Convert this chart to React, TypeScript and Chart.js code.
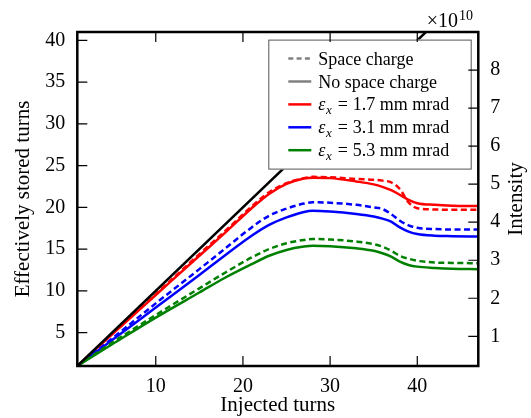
import { useEffect, useRef } from "react";
import { Chart, registerables } from "chart.js";

Chart.register(...registerables);

// ---- data ----
const injectedTurns = [1, 5, 10, 15, 18, 21, 23, 25, 27, 28, 30, 33, 35, 36, 37, 38, 39, 40, 42, 44, 47];

const red17NoSC = [1, 4.8, 9.5, 14.2, 17.0, 19.9, 21.6, 22.8, 23.45, 23.55, 23.5, 23.1, 22.75, 22.45, 22.05, 21.5, 20.9, 20.5, 20.3, 20.2, 20.15];
const red17SC = [1, 4.85, 9.6, 14.4, 17.2, 20.1, 21.8, 22.9, 23.5, 23.65, 23.6, 23.4, 23.3, 23.2, 23.0, 22.2, 20.6, 19.9, 19.75, 19.7, 19.7];
const blue31NoSC = [1, 4.1, 8.0, 11.9, 14.3, 16.6, 17.9, 18.8, 19.45, 19.6, 19.5, 19.2, 18.9, 18.65, 18.3, 17.6, 17.1, 16.8, 16.6, 16.55, 16.5];
const blue31SC = [1, 4.3, 8.5, 12.6, 15.1, 17.6, 19.0, 19.85, 20.45, 20.6, 20.55, 20.3, 20.0, 19.8, 19.2, 18.4, 17.85, 17.55, 17.4, 17.35, 17.35];
const green53NoSC = [1, 3.6, 6.8, 9.8, 11.6, 13.2, 14.2, 14.9, 15.3, 15.4, 15.35, 15.1, 14.8, 14.5, 14.1, 13.5, 13.1, 12.9, 12.75, 12.65, 12.6];
const green53SC = [1, 3.8, 7.1, 10.3, 12.2, 14.0, 15.0, 15.7, 16.1, 16.2, 16.15, 15.9, 15.6, 15.3, 14.8, 14.2, 13.85, 13.6, 13.4, 13.35, 13.3];

const idealX = [1, 47];
const idealY = [1, 47];

const xRange = [1, 47];
const yLeftRange = [1, 41];
const yRightRange = [0.2195, 9.0];

const xTicks = [10, 20, 30, 40];
const yLeftTicks = [5, 10, 15, 20, 25, 30, 35, 40];
const yRightTicks = [1, 2, 3, 4, 5, 6, 7, 8];

const emittances = ["1.7", "3.1", "5.3"];
const styleLabels = ["Space charge", "No space charge"];

const FONT = '"Liberation Serif", "Times New Roman", serif';

export default function App() {
  const ref = useRef<HTMLCanvasElement>(null);

  useEffect(() => {
    const canvas = ref.current!;
    const pts = (ys: number[]) => injectedTurns.map((x, i) => ({ x, y: ys[i] }));
    const mk = (label: string, ys: number[], color: string, dashed: boolean) => ({
      label,
      data: pts(ys),
      borderColor: color,
      backgroundColor: color,
      borderWidth: 2.5,
      borderDash: dashed ? [6, 3.5] : [],
      pointRadius: 0,
      cubicInterpolationMode: "monotone" as const,
      fill: false,
      yAxisID: "y",
    });

    const decor = {
      id: "decor",
      afterDatasetsDraw(chart: any) {
        const { ctx, chartArea: a, scales } = chart;
        ctx.save();
        // legend box
        const lw = 203.4, lh = 130;
        const lx = a.right - 6.6 - lw;
        const ly = a.top + 7.6;
        ctx.fillStyle = "#ffffff";
        ctx.fillRect(lx, ly, lw, lh);
        ctx.strokeStyle = "#555555";
        ctx.lineWidth = 1;
        ctx.setLineDash([]);
        ctx.strokeRect(lx + 0.5, ly + 0.5, lw - 1, lh - 1);

        const rows = [
          { color: "#808080", dash: [5, 3.3], text: styleLabels[0] },
          { color: "#808080", dash: [], text: styleLabels[1] },
          { color: "#ff0000", dash: [], eps: emittances[0] },
          { color: "#0000ff", dash: [], eps: emittances[1] },
          { color: "#008000", dash: [], eps: emittances[2] },
        ];
        rows.forEach((r: any, i: number) => {
          const cy = ly + 19 + i * 22.9;
          ctx.strokeStyle = r.color;
          ctx.lineWidth = 2.5;
          ctx.setLineDash(r.dash);
          ctx.beginPath();
          ctx.moveTo(lx + 20, cy);
          ctx.lineTo(lx + 43, cy);
          ctx.stroke();
          ctx.setLineDash([]);
          ctx.fillStyle = "#000";
          ctx.textBaseline = "alphabetic";
          ctx.textAlign = "left";
          const base = cy + 6;
          let tx = lx + 50;
          if (r.text) {
            ctx.font = `18px ${FONT}`;
            ctx.fillText(r.text, tx, base);
          } else {
            ctx.font = `italic 18px ${FONT}`;
            ctx.fillText("ε", tx, base);
            tx += ctx.measureText("ε").width + 0.5;
            ctx.font = `italic 13px ${FONT}`;
            ctx.fillText("x", tx, base + 4);
            tx += ctx.measureText("x").width + 6;
            ctx.font = `18px ${FONT}`;
            ctx.fillText("=", tx, base);
            tx += ctx.measureText("=").width + 5;
            ctx.fillText(`${r.eps} mm mrad`, tx, base);
          }
        });

        // frame
        ctx.strokeStyle = "#000";
        ctx.lineWidth = 2.5;
        ctx.strokeRect(a.left, a.top, a.right - a.left, a.bottom - a.top);

        // inward ticks
        ctx.lineWidth = 1.2;
        const tl = 10;
        ctx.beginPath();
        xTicks.forEach((v) => {
          const px = scales.x.getPixelForValue(v);
          ctx.moveTo(px, a.bottom);
          ctx.lineTo(px, a.bottom - tl);
          ctx.moveTo(px, a.top);
          ctx.lineTo(px, a.top + tl);
        });
        yLeftTicks.forEach((v) => {
          const py = scales.y.getPixelForValue(v);
          ctx.moveTo(a.left, py);
          ctx.lineTo(a.left + tl, py);
        });
        yRightTicks.forEach((v) => {
          const py = scales.y2.getPixelForValue(v);
          ctx.moveTo(a.right, py);
          ctx.lineTo(a.right - tl, py);
        });
        ctx.stroke();

        // right title
        ctx.fillStyle = "#000";
        ctx.font = `21px ${FONT}`;
        ctx.textAlign = "center";
        ctx.textBaseline = "middle";
        ctx.save();
        ctx.translate(516, (a.top + a.bottom) / 2);
        ctx.rotate(-Math.PI / 2);
        ctx.fillText("Intensity", 0, 0);
        ctx.restore();

        // exponent
        ctx.textBaseline = "alphabetic";
        ctx.textAlign = "right";
        ctx.font = `20px ${FONT}`;
        ctx.fillText("×10", 458, 27);
        ctx.textAlign = "left";
        ctx.font = `14px ${FONT}`;
        ctx.fillText("10", 459, 20);
        ctx.restore();
      },
    };

    const tickFont = { family: FONT, size: 20 };
    const titleFont = { family: FONT, size: 21 };

    const chart = new Chart(canvas, {
      type: "line",
      data: {
        datasets: [
          {
            label: "ideal",
            data: idealX.map((x, i) => ({ x, y: idealY[i] })),
            borderColor: "#000",
            borderWidth: 2.5,
            pointRadius: 0,
            yAxisID: "y",
          } as any,
          mk("green SC", green53SC, "#008000", true),
          mk("green", green53NoSC, "#008000", false),
          mk("blue SC", blue31SC, "#0000ff", true),
          mk("blue", blue31NoSC, "#0000ff", false),
          mk("red SC", red17SC, "#ff0000", true),
          mk("red", red17NoSC, "#ff0000", false),
        ],
      },
      options: {
        responsive: false,
        animation: false,
        layout: { padding: { top: 32, left: 0, right: 0, bottom: 0 } },
        plugins: { legend: { display: false }, tooltip: { enabled: false } },
        scales: {
          x: {
            type: "linear",
            position: "bottom",
            min: xRange[0],
            max: xRange[1],
            afterBuildTicks: (s: any) => {
              s.ticks = xTicks.map((v) => ({ value: v }));
            },
            afterFit: (s: any) => {
              s.height = 52;
            },
            grid: { display: false, drawTicks: false },
            border: { display: false },
            ticks: { padding: 9, color: "#000", font: tickFont, maxRotation: 0, autoSkip: false, callback: (v: any) => String(v) },
            title: { display: true, text: "Injected turns", color: "#000", font: titleFont, padding: { top: 0, bottom: 0 } },
          },
          y: {
            type: "linear",
            position: "left",
            min: yLeftRange[0],
            max: yLeftRange[1],
            afterBuildTicks: (s: any) => {
              s.ticks = yLeftTicks.map((v) => ({ value: v }));
            },
            afterFit: (s: any) => {
              s.width = 77.3;
            },
            grid: { display: false, drawTicks: false },
            border: { display: false },
            ticks: { padding: 12, color: "#000", font: tickFont, autoSkip: false, callback: (v: any) => String(v) },
            title: { display: true, text: "Effectively stored turns", color: "#000", font: titleFont, padding: { top: 11, bottom: 0 } },
          },
          y2: {
            type: "linear",
            position: "right",
            min: yRightRange[0],
            max: yRightRange[1],
            afterBuildTicks: (s: any) => {
              s.ticks = yRightTicks.map((v) => ({ value: v }));
            },
            afterFit: (s: any) => {
              s.width = 52.7;
            },
            grid: { display: false, drawTicks: false },
            border: { display: false },
            ticks: { padding: 12, color: "#000", font: tickFont, autoSkip: false, callback: (v: any) => String(v) },
          },
        },
      },
      plugins: [decor],
    });
    return () => chart.destroy();
  }, []);

  return (
    <div style={{ position: "fixed", left: 0, top: 0, width: 531, height: 418, background: "#fff" }}>
      <canvas ref={ref} width={531} height={418} style={{ display: "block", width: 531, height: 418 }} />
    </div>
  );
}
